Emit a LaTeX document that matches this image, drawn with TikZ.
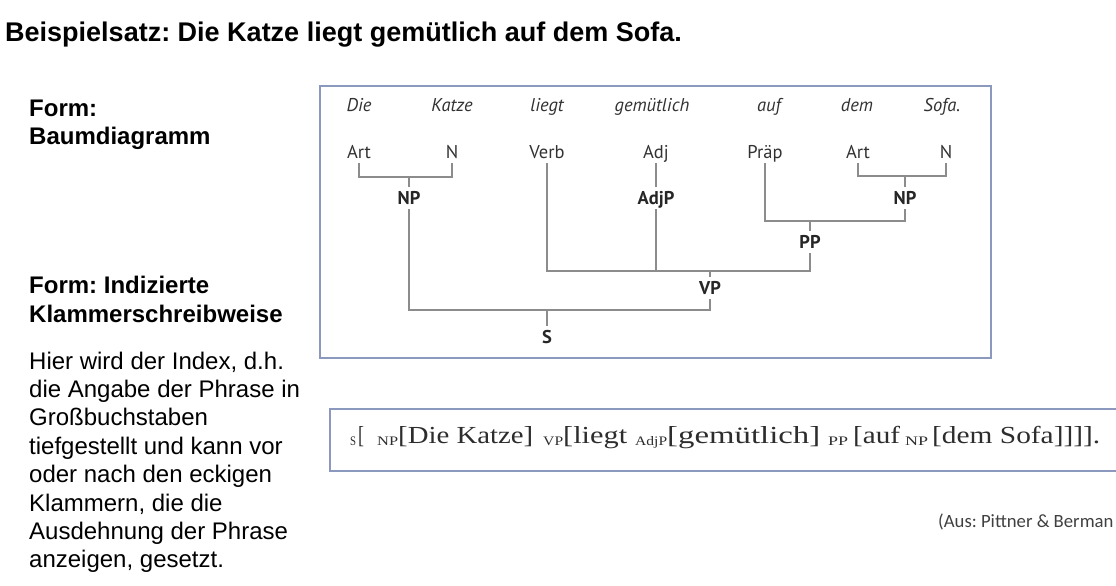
\documentclass[tikz,border=0pt]{standalone}
\usepackage{graphicx}
\usepackage{fontspec}
\setmainfont{Liberation Serif}
\newfontfamily\arialf{Liberation Sans}
\newfontfamily\treef{PT Sans}
\newfontfamily\calf{Carlito}
\definecolor{boxblue}{RGB}{140,153,190}
\definecolor{linegray}{RGB}{140,140,140}
\definecolor{treetext}{RGB}{50,50,50}
\definecolor{brtext}{RGB}{45,45,45}
\newcommand\bw[2]{\resizebox{#1pt}{\height}{#2}}
\frenchspacing
\begin{document}
\frenchspacing
\begin{tikzpicture}[x=1pt,y=-1pt,
  every node/.style={inner sep=0pt},
  titletext/.style={anchor=base west, font=\arialf\bfseries\fontsize{27}{30}\selectfont},
  headtext/.style={anchor=base west, font=\arialf\bfseries\fontsize{24}{28}\selectfont},
  bodytext/.style={anchor=base west, font=\arialf\fontsize{24}{28}\selectfont},
  treeword/.style={anchor=center, text height=14pt, text depth=4pt, font=\treef\itshape\fontsize{18.5}{20}\selectfont, text=treetext},
  treelbl/.style={anchor=center, text height=17pt, text depth=5pt, font=\treef\fontsize{18.5}{20}\selectfont, text=treetext},
  phr/.style={treelbl, font=\treef\bfseries\fontsize{18.5}{20}\selectfont, text=black!85},
  treeline/.style={draw=linegray, line width=1.1pt},
  boxline/.style={draw=boxblue, line width=1.8pt},
  brm/.style={anchor=base west, font=\fontsize{24.5}{26}\selectfont, text=brtext},
  brs/.style={anchor=base west, font=\fontsize{13}{14}\selectfont, text=brtext},
  srcnote/.style={anchor=base west, font=\calf\fontsize{18.7}{22}\selectfont, text=black!75}
]
\useasboundingbox (0,0) rectangle (1116,586);

% title and left column
\node[titletext] (title) at (5,42) {Beispielsatz: Die Katze liegt gemütlich auf dem Sofa.};
\node[headtext] (h1a) at (29,116) {Form:};
\node[headtext] (h1b) at (29,144) {Baumdiagramm};
\node[headtext] (h2a) at (29,293) {Form: Indizierte};
\node[headtext] (h2b) at (29,322) {Klammerschreibweise};
\node[bodytext] (t1) at (29,369.0) {Hier wird der Index, d.h.};
\node[bodytext] (t2) at (29,397.4) {die Angabe der Phrase in};
\node[bodytext] (t3) at (29,425.8) {Großbuchstaben};
\node[bodytext] (t4) at (29,454.2) {tiefgestellt und kann vor};
\node[bodytext] (t5) at (29,482.6) {oder nach den eckigen};
\node[bodytext] (t6) at (29,511.0) {Klammern, die die};
\node[bodytext] (t7) at (29,539.4) {Ausdehnung der Phrase};
\node[bodytext] (t8) at (29,567.8) {anzeigen, gesetzt.};

% tree box
\draw[boxline] (320,86) rectangle (991,358);

% words
\node[treeword] (w1) at (359,106) {Die};
\node[treeword] (w2) at (452,106) {Katze};
\node[treeword] (w3) at (547,106) {liegt};
\node[treeword] (w4) at (652,106) {gemütlich};
\node[treeword] (w5) at (769,106) {auf};
\node[treeword] (w6) at (857,106) {dem};
\node[treeword] (w7) at (942,106) {Sofa.};

% categories
\node[treelbl] (art1) at (359,152) {Art};
\node[treelbl] (n1) at (452,152) {N};
\node[treelbl] (verb) at (547,152) {Verb};
\node[treelbl] (adj) at (656,152) {Adj};
\node[treelbl] (praep) at (765,152) {Präp};
\node[treelbl] (art2) at (858,152) {Art};
\node[treelbl] (n2) at (946,152) {N};

% phrases
\node[phr] (np1) at (409,198) {NP};
\node[phr] (adjp) at (656,198) {AdjP};
\node[phr] (np2) at (905,198) {NP};
\node[phr] (pp) at (810,242) {PP};
\node[phr] (vp) at (710,288) {VP};
\node[phr] (s) at (547,337) {S};

% junctions
\coordinate (j1) at (409,177);
\coordinate (j2) at (905,176);
\coordinate (j3) at (810,221);
\coordinate (j4) at (710,271);
\coordinate (j5) at (547,310);

\draw[treeline] (art1.south) |- (j1) -| (n1.south);
\draw[treeline] (j1) -- (np1.north);
\draw[treeline] (art2.south) |- (j2) -| (n2.south);
\draw[treeline] (j2) -- (np2.north);
\draw[treeline] (adj.south) -- (adjp.north);
\draw[treeline] (praep.south) |- (j3) -| (np2.south);
\draw[treeline] (j3) -- (pp.north);
\draw[treeline] (verb.south) |- (j4) -| (pp.south);
\draw[treeline] (adjp.south) -- (adjp.south |- j4);
\draw[treeline] (j4) -- (vp.north);
\draw[treeline] (np1.south) |- (j5) -| (vp.south);
\draw[treeline] (j5) -- (s.north);

% bracket notation
\draw[boxline] (1116,409) -- (330,409) -- (330,471) -- (1116,471);
\node[brs] (b1) at (350,445) {\bw{6}{S}};
\node[brm] (b2) at (358,443) {\bw{6}{[}};
\node[brs] (b3) at (377,445) {\bw{21}{NP}};
\node[brm] (b4) at (398,443) {\bw{135}{[Die Katze]}};
\node[brs] (b5) at (543,445) {\bw{20}{VP}};
\node[brm] (b6) at (563,443) {\bw{64}{[liegt}};
\node[brs] (b7) at (635,445) {\bw{32}{AdjP}};
\node[brm] (b8) at (667,443) {\bw{153}{[gemütlich]}};
\node[brs] (b9) at (828,445) {\bw{20}{PP}};
\node[brm] (b10) at (853,443) {\bw{47}{[auf}};
\node[brs] (b11) at (905,445) {\bw{23}{NP}};
\node[brm] (b12) at (932,443) {\bw{168}{[dem Sofa]]]].}};

\node[srcnote] (src) at (938,527) {(Aus: Pittner \& Berman};
\end{tikzpicture}
\end{document}
